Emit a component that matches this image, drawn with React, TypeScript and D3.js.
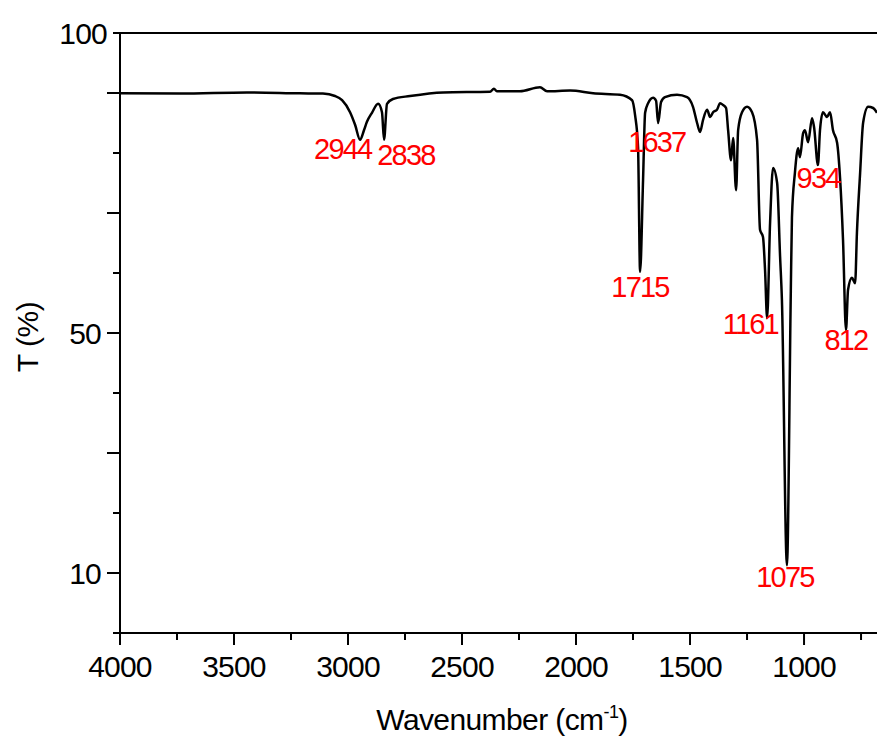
import React, { useEffect } from 'react';
import * as d3 from 'd3';

// spectrum (wavenumber in cm-1, transmittance in %)
const wavenumber = [
  4000, 3737, 3443, 3211, 3110, 3057, 3026, 2991, 2969, 2947, 2930, 2917, 2895, 2868, 2851, 2842,
  2829, 2803, 2728, 2583, 2377, 2360, 2347, 2246, 2158, 2127, 2026, 1925, 1807, 1754, 1741, 1728,
  1719, 1706, 1697, 1684, 1662, 1649, 1640, 1627, 1610, 1557, 1513, 1487, 1469, 1456, 1443, 1425,
  1412, 1399, 1382, 1368, 1355, 1342, 1333, 1320, 1311, 1298, 1289, 1272, 1250, 1228, 1206, 1193,
  1180, 1171, 1162, 1149, 1136, 1118, 1105, 1097, 1075, 1058, 1053, 1040, 1026, 1018, 1004, 996,
  982, 965, 956, 939, 930, 917, 899, 886, 873, 855, 842, 829, 816, 807, 790, 776, 768, 754, 741,
  719, 697, 680,
];
const transmittance = [
  89.95, 89.9, 90.1, 89.95, 89.9, 89.5, 88.8, 86.8, 84.7, 82.2, 83.8, 85.2, 86.7, 88.2, 86.8, 82.2,
  88.2, 89.0, 89.5, 90.1, 90.2, 90.7, 90.3, 90.3, 90.95, 90.3, 90.4, 89.95, 89.7, 88.8, 86.3, 81.0,
  60.2, 75.5, 86.7, 88.3, 89.2, 88.7, 85.0, 88.5, 89.3, 89.7, 89.3, 87.7, 85.0, 83.5, 85.5, 87.2,
  86.0, 86.8, 87.2, 88.3, 88.0, 87.5, 83.8, 78.8, 82.5, 73.8, 83.8, 86.8, 87.7, 86.8, 82.2, 67.2,
  66.0, 60.5, 52.5, 68.3, 77.5, 75.0, 62.7, 55.5, 11.3, 57.0, 69.3, 76.7, 80.8, 79.3, 83.3, 83.8,
  81.8, 85.8, 84.3, 78.0, 83.8, 86.8, 86.0, 86.8, 83.8, 81.7, 75.8, 65.5, 50.5, 57.2, 59.2, 58.3, 66.7,
  76.7, 85.0, 87.7, 87.5, 86.7,
];

const peakWn = [2944, 2838, 1715, 1637, 1161, 1075, 934, 812];
const peakT = [82.2, 82.2, 60.2, 85.0, 52.5, 11.3, 78.0, 50.5];
const labelOffsets = [[-18, 19], [21, 25], [-1, 25], [-2, 29], [-17, 16], [-2, 22], [-1, 23], [-1, 20]];

const xMajor = [4000, 3500, 3000, 2500, 2000, 1500, 1000];
const xMinor = [3750, 3250, 2750, 2250, 1750, 1250, 750];
const yTicks = [0, 10, 20, 30, 40, 50, 60, 70, 80, 90, 100];
const yLong = [10, 30, 50, 70, 90];
const yLabels = [100, 50, 10];

const W = 877;
const H = 742;
const left = 120;
const top = 33;
const bottom = 633;
const font = '"Liberation Sans", Arial, sans-serif';

const App = () => {
  useEffect(() => {
    document.body.style.margin = '0';
  }, []);

  const x = d3.scaleLinear().domain([4000, 680]).range([left, W]);
  const y = d3.scaleLinear().domain([0, 100]).range([bottom, top]);

  const pts = wavenumber.map((w, i) => [w, transmittance[i]] as [number, number]);
  const line = d3.line<[number, number]>()
    .x(d => x(d[0]))
    .y(d => y(d[1]))
    .curve(d3.curveMonotoneX);

  return (
    <svg width={W} height={H} style={{ display: 'block', background: '#fff' }} fontFamily={font}>
      <path d={line(pts) || ''} fill="none" stroke="#000" strokeWidth={2.5} strokeLinejoin="round" />

      {/* frame */}
      <line x1={left} x2={W} y1={top} y2={top} stroke="#000" strokeWidth={2} />
      <line x1={left} x2={left} y1={top} y2={bottom + 1} stroke="#000" strokeWidth={2} />
      <line x1={left - 1} x2={W} y1={bottom} y2={bottom} stroke="#000" strokeWidth={2} />

      {/* y axis */}
      {yTicks.map(t => {
        const len = yLong.includes(t) ? 13 : 7;
        return (
          <line key={'yt' + t} x1={left - len} x2={left} y1={y(t)} y2={y(t)} stroke="#000" strokeWidth={2} />
        );
      })}
      {yLabels.map(t => {
        const len = yLong.includes(t) ? 13 : 7;
        return (
          <text key={'yl' + t} x={left - len - 6} y={y(t)} dy="0.35em" textAnchor="end" fontSize={30} letterSpacing={-0.8} fill="#000">
            {t}
          </text>
        );
      })}
      <text transform={`translate(38,337) rotate(-90)`} textAnchor="middle" fontSize={30} letterSpacing={-0.5} fill="#000">
        T (%)
      </text>

      {/* x axis */}
      {xMajor.map(t => (
        <g key={'xm' + t}>
          <line x1={x(t)} x2={x(t)} y1={bottom} y2={bottom + 12} stroke="#000" strokeWidth={2} />
          <text x={x(t)} y={677} textAnchor="middle" fontSize={30} letterSpacing={-0.8} fill="#000">{t}</text>
        </g>
      ))}
      {xMinor.map(t => (
        <line key={'xn' + t} x1={x(t)} x2={x(t)} y1={bottom} y2={bottom + 7} stroke="#000" strokeWidth={2} />
      ))}
      <text x={502} y={730} textAnchor="middle" fontSize={30} letterSpacing={-0.6} fill="#000">
        Wavenumber (cm<tspan fontSize={18} dy={-12}>-1</tspan><tspan dy={12}>)</tspan>
      </text>

      {/* peak labels */}
      {peakWn.map((p, i) => (
        <text
          key={'pk' + p}
          x={x(p) + labelOffsets[i][0]}
          y={y(peakT[i]) + labelOffsets[i][1]}
          textAnchor="middle"
          fontSize={29}
          letterSpacing={-1.8}
          fill="#ff0000"
        >
          {p}
        </text>
      ))}
    </svg>
  );
};

export default App;
